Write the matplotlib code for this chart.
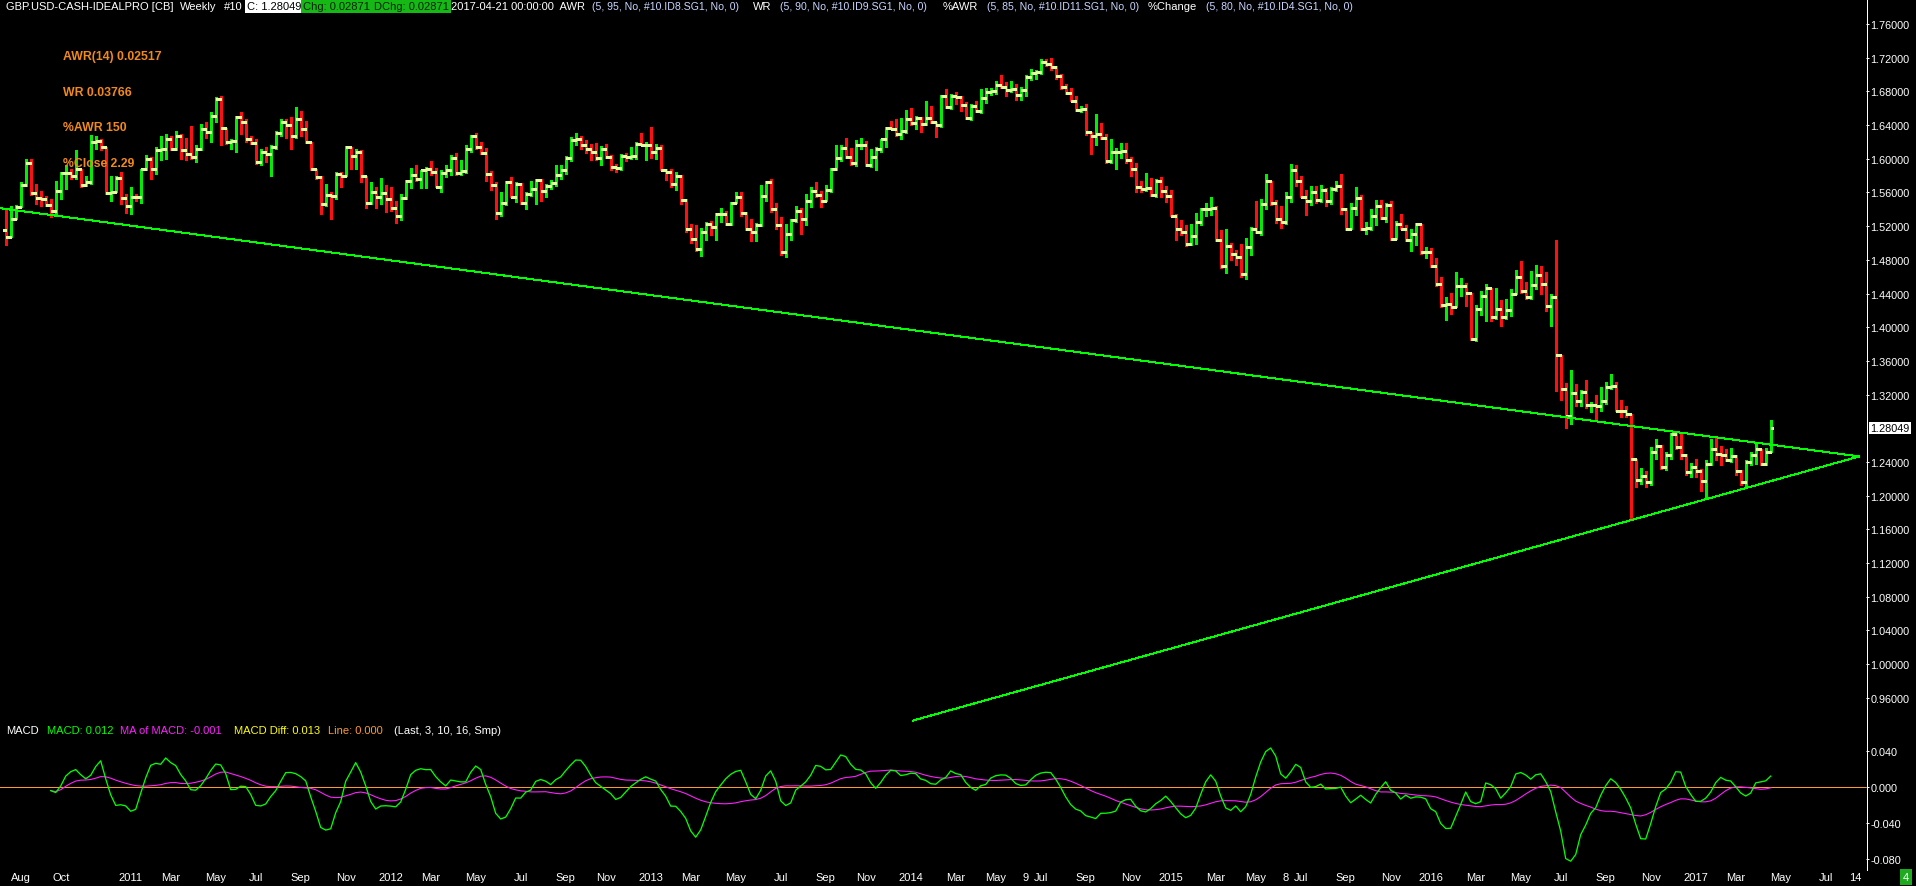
import math

import matplotlib
matplotlib.use("Agg")
import matplotlib.pyplot as plt
from matplotlib.lines import Line2D
from matplotlib.transforms import blended_transform_factory
import numpy as np
import pandas as pd

plt.rcParams["font.family"] = ["Liberation Sans", "DejaVu Sans"]

# ---- data (weekly GBP/USD, last bar 2017-04-21) ----
LAST_DATE = "2017-04-21"
FIRST_OPEN = 1.515
LAST_PRICE = 1.28049

CLOSE = [
    1.507, 1.529, 1.543, 1.569, 1.595, 1.559, 1.553, 1.552, 1.545, 1.538,
    1.562, 1.583, 1.583, 1.580, 1.588, 1.569, 1.572, 1.620, 1.621, 1.614,
    1.559, 1.561, 1.577, 1.553, 1.544, 1.555, 1.554, 1.588, 1.600, 1.588,
    1.610, 1.612, 1.623, 1.612, 1.627, 1.610, 1.606, 1.602, 1.612, 1.635,
    1.632, 1.651, 1.671, 1.636, 1.620, 1.621, 1.650, 1.643, 1.623, 1.619,
    1.596, 1.608, 1.606, 1.614, 1.631, 1.644, 1.640, 1.627, 1.647, 1.635,
    1.620, 1.588, 1.578, 1.546, 1.557, 1.556, 1.582, 1.580, 1.614, 1.603,
    1.608, 1.580, 1.548, 1.560, 1.554,
    1.559, 1.552, 1.541, 1.532, 1.553, 1.573, 1.581, 1.576, 1.586, 1.588,
    1.584, 1.567, 1.583, 1.587, 1.601, 1.583, 1.585, 1.612, 1.627, 1.614,
    1.607, 1.582, 1.569, 1.536, 1.547, 1.572, 1.555, 1.570, 1.548, 1.558,
    1.564, 1.575, 1.562, 1.568, 1.571, 1.581, 1.587, 1.601, 1.622, 1.623,
    1.616, 1.612, 1.608, 1.601, 1.612, 1.602, 1.590, 1.589, 1.603, 1.602,
    1.603, 1.617, 1.616, 1.616, 1.608, 1.613, 1.587, 1.584, 1.570, 1.580,
    1.551, 1.517, 1.505, 1.493, 1.513, 1.523, 1.519, 1.534, 1.534, 1.523,
    1.548, 1.555, 1.536, 1.517, 1.513,
    1.521, 1.556, 1.572, 1.540, 1.521, 1.489, 1.511, 1.527, 1.538, 1.529,
    1.550, 1.562, 1.557, 1.550, 1.563, 1.588, 1.601, 1.613, 1.602, 1.595,
    1.616, 1.616, 1.593, 1.602, 1.612, 1.623, 1.637, 1.635, 1.629, 1.633,
    1.647, 1.642, 1.648, 1.641, 1.648, 1.643, 1.640, 1.674, 1.661, 1.674,
    1.673, 1.664, 1.648, 1.663, 1.657, 1.672, 1.679, 1.680, 1.688, 1.685,
    1.682, 1.683, 1.676, 1.681, 1.697, 1.702, 1.703, 1.715, 1.712, 1.709,
    1.698, 1.685, 1.678, 1.669, 1.658, 1.659, 1.632, 1.627, 1.629, 1.624,
    1.597, 1.608, 1.608, 1.609, 1.598,
    1.588, 1.566, 1.564, 1.565, 1.557, 1.573, 1.562, 1.556, 1.532, 1.517,
    1.513, 1.499, 1.508, 1.525, 1.540, 1.540, 1.542, 1.503, 1.473, 1.496,
    1.487, 1.483, 1.463, 1.495, 1.517, 1.513, 1.546, 1.573, 1.547, 1.529,
    1.525, 1.554, 1.587, 1.574, 1.555, 1.550, 1.560, 1.551, 1.563, 1.550,
    1.564, 1.568, 1.540, 1.517, 1.542, 1.553, 1.517, 1.518, 1.532, 1.544,
    1.530, 1.545, 1.505, 1.523, 1.517, 1.503, 1.511, 1.523, 1.489, 1.489,
    1.473, 1.451, 1.426, 1.4275, 1.424, 1.449, 1.449, 1.441, 1.386, 1.422,
    1.437, 1.447, 1.412, 1.422, 1.412,
    1.421, 1.440, 1.460, 1.443, 1.436, 1.450, 1.462, 1.451, 1.425, 1.436,
    1.367, 1.327, 1.295, 1.322, 1.312, 1.323, 1.308, 1.308, 1.306, 1.312,
    1.329, 1.330, 1.301, 1.300, 1.297, 1.244, 1.219, 1.223, 1.216, 1.252,
    1.259, 1.234, 1.248, 1.273, 1.2575, 1.248, 1.228, 1.234, 1.229, 1.218,
    1.238, 1.256, 1.250, 1.248, 1.242, 1.247, 1.229, 1.216, 1.240, 1.248,
    1.255, 1.238, 1.252, 1.2805,
]

HIGH = [
    1.542, 1.544, 1.545, 1.572, 1.600, 1.600, 1.570, 1.562, 1.556, 1.552,
    1.573, 1.584, 1.592, 1.588, 1.610, 1.588, 1.580, 1.628, 1.627, 1.623,
    1.610, 1.580, 1.580, 1.584, 1.558, 1.566, 1.558, 1.588, 1.604, 1.602,
    1.614, 1.627, 1.629, 1.627, 1.633, 1.629, 1.625, 1.639, 1.616, 1.641,
    1.643, 1.655, 1.673, 1.675, 1.637, 1.623, 1.651, 1.655, 1.647, 1.627,
    1.623, 1.612, 1.614, 1.616, 1.633, 1.647, 1.647, 1.649, 1.661, 1.657,
    1.645, 1.620, 1.588, 1.580, 1.570, 1.560, 1.584, 1.584, 1.615, 1.614,
    1.612, 1.610, 1.580, 1.572, 1.566,
    1.577, 1.569, 1.567, 1.550, 1.558, 1.575, 1.589, 1.593, 1.587, 1.590,
    1.597, 1.589, 1.586, 1.593, 1.604, 1.607, 1.599, 1.616, 1.628, 1.631,
    1.620, 1.613, 1.585, 1.572, 1.560, 1.574, 1.578, 1.572, 1.571, 1.560,
    1.574, 1.576, 1.576, 1.570, 1.575, 1.592, 1.592, 1.603, 1.626, 1.631,
    1.627, 1.622, 1.618, 1.619, 1.615, 1.618, 1.604, 1.594, 1.606, 1.607,
    1.614, 1.620, 1.631, 1.620, 1.638, 1.618, 1.616, 1.588, 1.588, 1.584,
    1.581, 1.552, 1.523, 1.521, 1.518, 1.525, 1.526, 1.536, 1.542, 1.538,
    1.549, 1.560, 1.560, 1.537, 1.528,
    1.524, 1.569, 1.574, 1.576, 1.548, 1.531, 1.523, 1.529, 1.544, 1.541,
    1.558, 1.566, 1.572, 1.562, 1.569, 1.589, 1.616, 1.616, 1.625, 1.613,
    1.622, 1.625, 1.621, 1.612, 1.614, 1.623, 1.638, 1.645, 1.647, 1.648,
    1.658, 1.660, 1.651, 1.649, 1.668, 1.663, 1.644, 1.676, 1.683, 1.677,
    1.679, 1.674, 1.667, 1.665, 1.669, 1.683, 1.684, 1.684, 1.692, 1.699,
    1.691, 1.692, 1.689, 1.685, 1.699, 1.707, 1.705, 1.718, 1.718, 1.720,
    1.710, 1.701, 1.689, 1.684, 1.675, 1.662, 1.665, 1.628, 1.653, 1.642,
    1.629, 1.623, 1.613, 1.619, 1.619,
    1.602, 1.595, 1.574, 1.583, 1.577, 1.576, 1.578, 1.568, 1.563, 1.534,
    1.527, 1.521, 1.523, 1.536, 1.542, 1.548, 1.555, 1.544, 1.515, 1.517,
    1.500, 1.492, 1.499, 1.506, 1.519, 1.550, 1.552, 1.582, 1.574, 1.551,
    1.544, 1.560, 1.594, 1.592, 1.579, 1.563, 1.568, 1.568, 1.569, 1.565,
    1.566, 1.573, 1.582, 1.542, 1.547, 1.566, 1.557, 1.525, 1.540, 1.551,
    1.551, 1.547, 1.550, 1.526, 1.534, 1.521, 1.517, 1.524, 1.523, 1.495,
    1.494, 1.482, 1.460, 1.436, 1.441, 1.466, 1.458, 1.453, 1.432, 1.426,
    1.443, 1.451, 1.446, 1.447, 1.432,
    1.434, 1.445, 1.468, 1.478, 1.454, 1.467, 1.474, 1.473, 1.466, 1.440,
    1.503, 1.355, 1.334, 1.349, 1.332, 1.325, 1.337, 1.311, 1.319, 1.329,
    1.335, 1.345, 1.335, 1.313, 1.307, 1.293, 1.244, 1.233, 1.229, 1.258,
    1.267, 1.260, 1.252, 1.275, 1.277, 1.275, 1.250, 1.239, 1.244, 1.232,
    1.242, 1.267, 1.271, 1.259, 1.256, 1.257, 1.248, 1.231, 1.242, 1.252,
    1.263, 1.256, 1.257, 1.290,
]

LOW = [
    1.497, 1.513, 1.540, 1.544, 1.568, 1.557, 1.546, 1.544, 1.544, 1.531,
    1.534, 1.552, 1.564, 1.576, 1.576, 1.566, 1.568, 1.570, 1.612, 1.610,
    1.558, 1.550, 1.560, 1.546, 1.536, 1.534, 1.550, 1.548, 1.586, 1.576,
    1.582, 1.598, 1.600, 1.610, 1.610, 1.600, 1.598, 1.600, 1.596, 1.610,
    1.625, 1.620, 1.643, 1.616, 1.618, 1.612, 1.608, 1.629, 1.620, 1.618,
    1.594, 1.592, 1.596, 1.580, 1.612, 1.627, 1.625, 1.612, 1.625, 1.627,
    1.619, 1.586, 1.576, 1.534, 1.544, 1.529, 1.552, 1.566, 1.588, 1.588,
    1.588, 1.572, 1.542, 1.546, 1.542,
    1.546, 1.537, 1.538, 1.524, 1.527, 1.552, 1.565, 1.574, 1.565, 1.565,
    1.581, 1.566, 1.560, 1.578, 1.581, 1.581, 1.581, 1.583, 1.608, 1.612,
    1.606, 1.574, 1.563, 1.528, 1.532, 1.545, 1.554, 1.549, 1.546, 1.540,
    1.556, 1.546, 1.550, 1.555, 1.564, 1.568, 1.576, 1.582, 1.597, 1.616,
    1.612, 1.607, 1.598, 1.599, 1.592, 1.601, 1.586, 1.584, 1.587, 1.597,
    1.600, 1.600, 1.616, 1.598, 1.601, 1.600, 1.586, 1.575, 1.567, 1.563,
    1.546, 1.513, 1.500, 1.490, 1.484, 1.504, 1.510, 1.504, 1.525, 1.521,
    1.521, 1.548, 1.532, 1.515, 1.502,
    1.502, 1.520, 1.550, 1.537, 1.517, 1.486, 1.483, 1.504, 1.525, 1.511,
    1.521, 1.543, 1.555, 1.543, 1.550, 1.561, 1.586, 1.597, 1.601, 1.592,
    1.591, 1.612, 1.591, 1.590, 1.586, 1.608, 1.614, 1.635, 1.627, 1.623,
    1.631, 1.640, 1.635, 1.632, 1.640, 1.642, 1.626, 1.638, 1.660, 1.659,
    1.665, 1.657, 1.647, 1.646, 1.656, 1.654, 1.666, 1.676, 1.677, 1.684,
    1.674, 1.679, 1.670, 1.670, 1.675, 1.693, 1.695, 1.701, 1.710, 1.705,
    1.695, 1.683, 1.677, 1.668, 1.657, 1.655, 1.628, 1.606, 1.616, 1.623,
    1.595, 1.595, 1.588, 1.601, 1.595,
    1.580, 1.560, 1.560, 1.562, 1.556, 1.555, 1.555, 1.549, 1.532, 1.504,
    1.509, 1.496, 1.498, 1.499, 1.521, 1.532, 1.533, 1.502, 1.470, 1.464,
    1.480, 1.474, 1.460, 1.457, 1.486, 1.512, 1.509, 1.540, 1.545, 1.524,
    1.518, 1.523, 1.549, 1.568, 1.554, 1.533, 1.545, 1.548, 1.549, 1.544,
    1.546, 1.562, 1.534, 1.515, 1.517, 1.533, 1.515, 1.511, 1.515, 1.521,
    1.529, 1.525, 1.503, 1.506, 1.516, 1.502, 1.491, 1.497, 1.487, 1.482,
    1.471, 1.449, 1.424, 1.409, 1.416, 1.424, 1.437, 1.425, 1.385, 1.384,
    1.414, 1.407, 1.407, 1.410, 1.402,
    1.410, 1.413, 1.442, 1.441, 1.434, 1.434, 1.445, 1.439, 1.419, 1.402,
    1.324, 1.314, 1.280, 1.285, 1.307, 1.307, 1.304, 1.299, 1.291, 1.301,
    1.309, 1.327, 1.301, 1.293, 1.293, 1.172, 1.210, 1.214, 1.210, 1.213,
    1.244, 1.232, 1.231, 1.244, 1.256, 1.244, 1.224, 1.222, 1.222, 1.205,
    1.197, 1.237, 1.242, 1.236, 1.241, 1.240, 1.224, 1.213, 1.212, 1.237,
    1.238, 1.237, 1.237, 1.252,
]

# hand-drawn triangle trendlines: (bar index, price) end points
UPPER_X, UPPER_Y = [-1.1, 370.7], [1.5412, 1.2466]
LOWER_X, LOWER_Y = [181.5, 370.7], [0.9332, 1.2466]

PRICE_TICKS = [1.76, 1.72, 1.68, 1.64, 1.60, 1.56, 1.52, 1.48, 1.44, 1.40,
               1.36, 1.32, 1.24, 1.20, 1.16, 1.12, 1.08, 1.04, 1.00, 0.96]
MACD_TICKS = [0.04, 0.0, -0.04, -0.08]
MACD_FAST, MACD_SLOW, MACD_SIG = 3, 10, 16

W, H = 1916, 887
BG = "black"
UP, DOWN, TICK = "#00ee00", "#ff1010", "#e2ffa0"
ORANGE = "#f28a1a"
PARAM = "#c8d6ff"


def px(n):
    return n * 72.0 / 100


def ftext(x, y, s, **kw):
    kw.setdefault("va", "center")
    kw.setdefault("ha", "left")
    kw.setdefault("fontsize", 8)
    kw.setdefault("color", "white")
    return fig.text(x / W, 1 - y / H, s, **kw)


n = len(CLOSE)
assert len(HIGH) == n and len(LOW) == n
dates = pd.date_range(end=LAST_DATE, periods=n, freq="W-FRI")
idx = np.arange(n)
c = np.array(CLOSE)
o = np.r_[FIRST_OPEN, c[:-1]]
top = np.maximum.reduce([np.array(HIGH), o, c])
bot = np.minimum.reduce([np.array(LOW), o, c])
cols = np.where(c >= o, UP, DOWN)

fig = plt.figure(figsize=(W / 100, H / 100), dpi=100, facecolor=BG)
x0, x1 = (0 - 5.7) / 5, (1866 - 5.7) / 5

# ---- price panel ----
ax = fig.add_axes([0, 1 - 725 / H, 1866 / W, 705 / H], facecolor=BG)
p_top = 1.76 - (20 - 24.9) / 842.5
p_bot = 1.76 - (725 - 24.9) / 842.5
ax.set_xlim(x0, x1)
ax.set_ylim(p_bot, p_top)
ax.vlines(idx, bot, top, colors=cols, lw=px(1.3), antialiased=False)
ax.hlines(o, idx - 0.5, idx, colors=TICK, lw=px(2.5), antialiased=False)
ax.hlines(c, idx, idx + 0.5, colors=TICK, lw=px(2.5), antialiased=False)
ax.plot(UPPER_X, UPPER_Y, color="#00ff00", lw=px(1), antialiased=False)
ax.plot(LOWER_X, LOWER_Y, color="#00ff00", lw=px(1), antialiased=False)

ax.yaxis.tick_right()
ax.set_yticks(PRICE_TICKS)
ax.set_yticklabels([f"{v:.5f}" for v in PRICE_TICKS])
ax.set_xticks([])
ax.tick_params(axis="y", length=px(3), width=px(1), colors="white",
               pad=px(1.5), labelsize=7.8)
for s in ax.spines.values():
    s.set_visible(False)
tr = blended_transform_factory(ax.transAxes, ax.transData)
ax.text(1 + 4.5 / 1866, LAST_PRICE, f"{LAST_PRICE:.5f}", transform=tr,
        ha="left", va="center", fontsize=7.8, color="black", clip_on=False,
        bbox=dict(boxstyle="square,pad=0.12", fc="white", ec="none"))

# ---- MACD panel ----
ax2 = fig.add_axes([0, 1 - 868 / H, 1866 / W, 128 / H], facecolor=BG)
ax2.set_xlim(x0, x1)
ax2.set_ylim(-(868 - 788) / 900, (788 - 740) / 900)
cs = pd.Series(CLOSE)
macd = cs.rolling(MACD_FAST).mean() - cs.rolling(MACD_SLOW).mean()
sig = macd.rolling(MACD_SIG, min_periods=1).mean()
ax2.axhline(0, color="#ff9a2a", lw=px(1))
ax2.plot(idx, sig, color="#ff20ff", lw=px(1.1))
ax2.plot(idx, macd, color="#00ff00", lw=px(1.3))
ax2.yaxis.tick_right()
ax2.set_yticks(MACD_TICKS)
ax2.set_yticklabels([f"{v:.3f}" for v in MACD_TICKS])
ax2.set_xticks([])
ax2.tick_params(axis="y", length=px(3), width=px(1), colors="white",
                pad=px(1.5), labelsize=7.8)
for s in ax2.spines.values():
    s.set_visible(False)

fig.add_artist(Line2D([1866.5 / W] * 2, [1, 1 - 871 / H], color="white",
                      lw=px(1)))

# ---- time axis labels ----
months = [(2010, 8), (2010, 10)] + [(y, m) for y in range(2011, 2018)
                                    for m in (1, 3, 5, 7, 9, 11)]
months = [ym for ym in months if ym <= (2017, 7)]
labels = []
for y, m in months:
    txt = str(y) if m == 1 else pd.Timestamp(y, m, 1).strftime("%b")
    labels.append((pd.Timestamp(y, m, 1), txt))
labels += [(pd.Timestamp("2014-06-09"), "9"), (pd.Timestamp("2015-06-08"), "8"),
           (pd.Timestamp("2017-08-14"), "14")]
trx = blended_transform_factory(ax2.transData, fig.transFigure)
for d, txt in labels:
    i = math.ceil((d - dates[0]).days / 7)
    ax2.text(i, 1 - 878 / H, txt, transform=trx, ha="center", va="center",
             fontsize=8, color="white", clip_on=False)

ftext(1903, 878, "4", fontsize=8,
      bbox=dict(boxstyle="square,pad=0.25", fc="#1faa1f", ec="none"))

# ---- header ----
HY = 7.5
ftext(6, HY, "GBP.USD-CASH-IDEALPRO [CB]")
ftext(180, HY, "Weekly")
ftext(224, HY, "#10")
ftext(247, HY, "C: 1.28049", color="black",
      bbox=dict(boxstyle="square,pad=0.15", fc="white", ec="none"))
ftext(303, HY, "Chg: 0.02871", color="#002200",
      bbox=dict(boxstyle="square,pad=0.15", fc="#16b816", ec="none"))
ftext(374, HY, "DChg: 0.02871", color="#002200",
      bbox=dict(boxstyle="square,pad=0.15", fc="#16b816", ec="none"))
ftext(451, HY, "2017-04-21 00:00:00  AWR")
ftext(592, HY, "(5, 95, No, #10.ID8.SG1, No, 0)", color=PARAM, fontsize=7.6)
ftext(753, HY, "WR")
ftext(780, HY, "(5, 90, No, #10.ID9.SG1, No, 0)", color=PARAM, fontsize=7.6)
ftext(943, HY, "%AWR")
ftext(987, HY, "(5, 85, No, #10.ID11.SG1, No, 0)", color=PARAM, fontsize=7.6)
ftext(1148, HY, "%Change")
ftext(1206, HY, "(5, 80, No, #10.ID4.SG1, No, 0)", color=PARAM, fontsize=7.6)

for y, s in [(57, "AWR(14) 0.02517"), (93, "WR 0.03766"),
             (128, "%AWR 150"), (164, "%Close 2.29")]:
    ftext(63, y, s, color=ORANGE, fontsize=8.8, fontweight="bold")

# ---- MACD legend ----
last_m, last_s = macd.iloc[-1], sig.iloc[-1]
for x, s, col in [(6, "MACD", "white"),
                  (47, f"MACD: {last_m:.3f}", "#00ff00"),
                  (120, f"MA of MACD: {last_s:.3f}", "#ff20ff"),
                  (234, f"MACD Diff: {last_m - last_s:.3f}", "#ffff00"),
                  (328, "Line: 0.000", "#ff9a2a"),
                  (394, "(Last, 3, 10, 16, Smp)", "white")]:
    ftext(x, 731, s, color=col)

fig.savefig("out.png", dpi=100, facecolor=BG)
